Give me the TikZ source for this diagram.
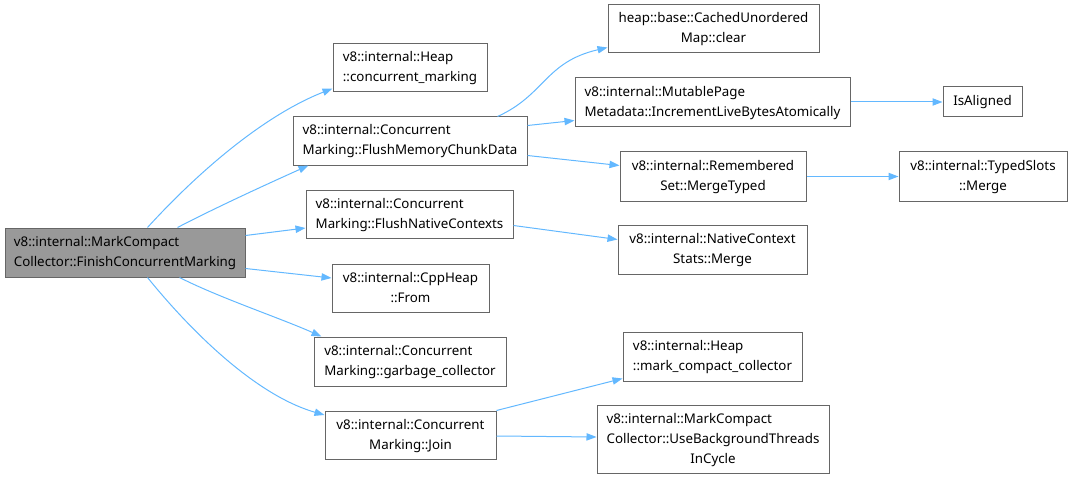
\documentclass[tikz,border=0pt]{standalone}
\usepackage{fontspec}
\setmainfont{Noto Sans}
\usetikzlibrary{arrows.meta,calc}
\definecolor{edgec}{HTML}{63B8FF}
\definecolor{bord}{HTML}{666666}
\definecolor{mainfill}{HTML}{999999}
\newcommand\twol[2]{\begin{tabular}{@{}l@{}}#1\\\multicolumn{1}{@{}c@{}}{#2}\end{tabular}}
\newcommand\threel[3]{\begin{tabular}{@{}l@{}}#1\\#2\\\multicolumn{1}{@{}c@{}}{#3}\end{tabular}}
\newcommand\bx[7][]{\node[box,#1,minimum width={(#4-#2)*0.75pt},minimum height={(#5-#3)*0.75pt}] (#6) at ({(#2+#4)/2},{(#3+#5)/2}) {#7};}
\tikzset{
  box/.style={draw=bord, line width=0.75pt, fill=white, inner sep=0pt, font=\fontsize{10pt}{15pt}\selectfont},
  mainbox/.style={fill=mainfill},
  conn/.style={draw=edgec, line width=0.75pt, -{Triangle[length=7.5pt,width=5.5pt]}}
}
\begin{document}
\begin{tikzpicture}[x=0.75pt,y=-0.75pt]
\useasboundingbox (0,0) rectangle (1072,478);
\bx[mainbox]{5}{228}{245}{277}{main}{\twol{v8::internal::MarkCompact}{Collector::FinishConcurrentMarking}}
\bx{333}{44}{487}{92}{cm}{\twol{v8::internal::Heap}{::concurrent\_marking}}
\bx{293}{117}{527}{165}{fmcd}{\twol{v8::internal::Concurrent}{Marking::FlushMemoryChunkData}}
\bx{306}{190}{513}{238}{fnc}{\twol{v8::internal::Concurrent}{Marking::FlushNativeContexts}}
\bx{332}{264}{489}{312}{cpp}{\twol{v8::internal::CppHeap}{::From}}
\bx{314}{337}{506}{386}{gc}{\twol{v8::internal::Concurrent}{Marking::garbage\_collector}}
\bx{325}{411}{496}{459}{join}{\twol{v8::internal::Concurrent}{Marking::Join}}
\bx{608}{5}{819}{53}{cuc}{\twol{heap::base::CachedUnordered}{Map::clear}}
\bx{575}{78}{850}{127}{mpm}{\twol{v8::internal::MutablePage}{Metadata::IncrementLiveBytesAtomically}}
\bx{943}{87}{1022}{117}{isal}{IsAligned}
\bx{620}{152}{806}{201}{rs}{\twol{v8::internal::Remembered}{Set::MergeTyped}}
\bx{899}{152}{1067}{201}{ts}{\twol{v8::internal::TypedSlots}{::Merge}}
\bx{618}{225}{807}{274}{ncs}{\twol{v8::internal::NativeContext}{Stats::Merge}}
\bx{623}{332}{802}{381}{mcc}{\twol{v8::internal::Heap}{::mark\_compact\_collector}}
\bx{597}{405}{829}{473}{ubt}{\threel{v8::internal::MarkCompact}{Collector::UseBackgroundThreads}{InCycle}}

\draw[conn] ($(main.north west)+(143,0)$) .. controls (200,170) and (265,115) .. ($(cm.south west)+(0,-4)$);
\draw[conn] ($(main.north west)+(173,0)$) .. controls (215,208) and (265,185) .. ($(fmcd.south west)+(16,0)$);
\draw[conn] ($(main.north east)+(0,8)$) -- ($(fnc.west)+(0,14)$);
\draw[conn] ($(main.south east)+(0,-9)$) -- ($(cpp.west)+(0,-10)$);
\draw[conn] ($(main.south west)+(175,0)$) .. controls (220,298) and (280,318) .. ($(gc.north west)+(8,0)$);
\draw[conn] ($(main.south west)+(143,0)$) .. controls (190,330) and (255,395) .. ($(join.west)+(0,-20)$);
\draw[conn] ($(fmcd.north east)+(-30,0)$) .. controls (545,95) and (545,62) .. ($(cuc.south west)+(0,-6)$);
\draw[conn] ($(fmcd.north east)+(0,9)$) -- ($(mpm.west)+(0,18)$);
\draw[conn] ($(fmcd.south east)+(0,-10)$) -- ($(rs.west)+(0,-11)$);
\draw[conn] (mpm.east |- isal.west) -- (isal.west);
\draw[conn] (rs.east) -- (ts.west);
\draw[conn] ($(fnc.north east)+(0,36)$) -- ($(ncs.west)+(0,-10)$);
\draw[conn] ($(join.north east)+(0,0)$) -- ($(mcc.south west)+(0,-3)$);
\draw[conn] ($(join.east)+(0,1)$) -- ($(ubt.west)+(0,-2)$);
\end{tikzpicture}
\end{document}
